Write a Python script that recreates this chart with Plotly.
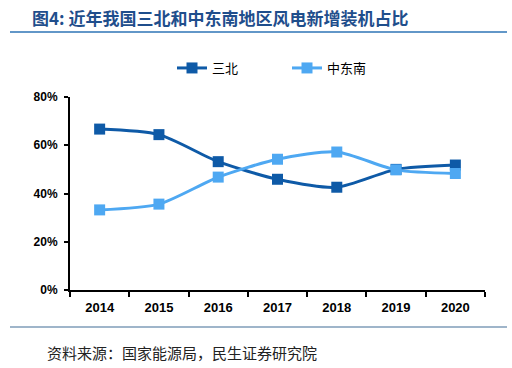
import plotly.graph_objects as go

years = ["2014", "2015", "2016", "2017", "2018", "2019", "2020"]
sanbei = [66.7, 64.4, 53.2, 45.9, 42.6, 50.0, 51.8]
zhongdongnan = [33.2, 35.6, 46.8, 54.2, 57.2, 49.8, 48.3]
series_names = ["三北", "中东南"]
y_ticks = [0, 20, 40, 60, 80]
y_tick_labels = ["0%", "20%", "40%", "60%", "80%"]

title = "图4: 近年我国三北和中东南地区风电新增装机占比"
source = "资料来源：国家能源局，民生证券研究院"

c_dark = "#0E5AA7"
c_light = "#4EA8F2"

W, H = 512, 368
ML, MR, MT, MB = 70, 27, 97, 78
plot_w = W - ML - MR
plot_h = H - MT - MB
def px_x(x):
    return (x - ML) / plot_w
def px_y(y):
    return (H - MB - y) / plot_h

fig = go.Figure()
fig.add_trace(go.Scatter(
    x=years, y=sanbei, name=series_names[0], mode="lines+markers",
    line=dict(color=c_dark, width=3, shape="spline", smoothing=0.7),
    marker=dict(symbol="square", size=11, color=c_dark),
))
fig.add_trace(go.Scatter(
    x=years, y=zhongdongnan, name=series_names[1], mode="lines+markers",
    line=dict(color=c_light, width=3, shape="spline", smoothing=0.7),
    marker=dict(symbol="square", size=11, color=c_light),
))

x_tick_font = dict(size=13, family="Arial, Liberation Sans", color="black", weight="bold")
y_tick_font = dict(size=12, family="Arial, Liberation Sans", color="black", weight="bold")

fig.update_layout(
    width=W, height=H,
    margin=dict(l=ML, r=MR, t=MT, b=MB, autoexpand=False),
    paper_bgcolor="white", plot_bgcolor="white",
    font=dict(family="Arial, Liberation Sans, Noto Sans CJK SC", color="black"),
    showlegend=True,
    legend=dict(orientation="h", x=px_x(172), xanchor="left", y=px_y(68), yanchor="middle",
                font=dict(size=13, family="Noto Sans CJK SC", color="black"),
                entrywidth=70, entrywidthmode="pixels",
                traceorder="normal", bgcolor="rgba(0,0,0,0)"),
    xaxis=dict(
        type="category", showline=True, linecolor="black", linewidth=2,
        ticks="outside", tickson="boundaries", ticklen=5, tickwidth=2, tickcolor="black",
        tickfont=x_tick_font, ticklabelstandoff=4,
        showgrid=False, zeroline=False, range=[-0.5, 6.5],
    ),
    yaxis=dict(
        range=[0, 80], tickvals=y_ticks, ticktext=y_tick_labels,
        showline=True, linecolor="black", linewidth=2,
        ticks="outside", ticklen=4, tickwidth=2, tickcolor="black",
        tickfont=y_tick_font, ticklabelstandoff=4,
        showgrid=False, zeroline=False,
    ),
)

fig.add_annotation(text="<b>" + title + "</b>", xref="paper", yref="paper",
                   x=px_x(30), y=px_y(17), xanchor="left", yanchor="middle",
                   showarrow=False,
                   font=dict(size=17, family="Noto Sans CJK SC", color="#1F4E8C"))
fig.add_annotation(text=source, xref="paper", yref="paper",
                   x=px_x(45), y=px_y(352), xanchor="left", yanchor="middle",
                   showarrow=False,
                   font=dict(size=15, family="Noto Sans CJK SC", color="#222222"))

fig.add_shape(type="line", xref="paper", yref="paper",
              x0=px_x(10), x1=px_x(507), y0=px_y(32), y1=px_y(32),
              line=dict(color="#2E75B6", width=1.5))
fig.add_shape(type="line", xref="paper", yref="paper",
              x0=px_x(10), x1=px_x(507), y0=px_y(327), y1=px_y(327),
              line=dict(color="#7F9DB9", width=1.5))

fig.write_html("out.html", config={"displayModeBar": False},
               post_script="document.body.style.margin='0';document.body.style.overflow='hidden';")
